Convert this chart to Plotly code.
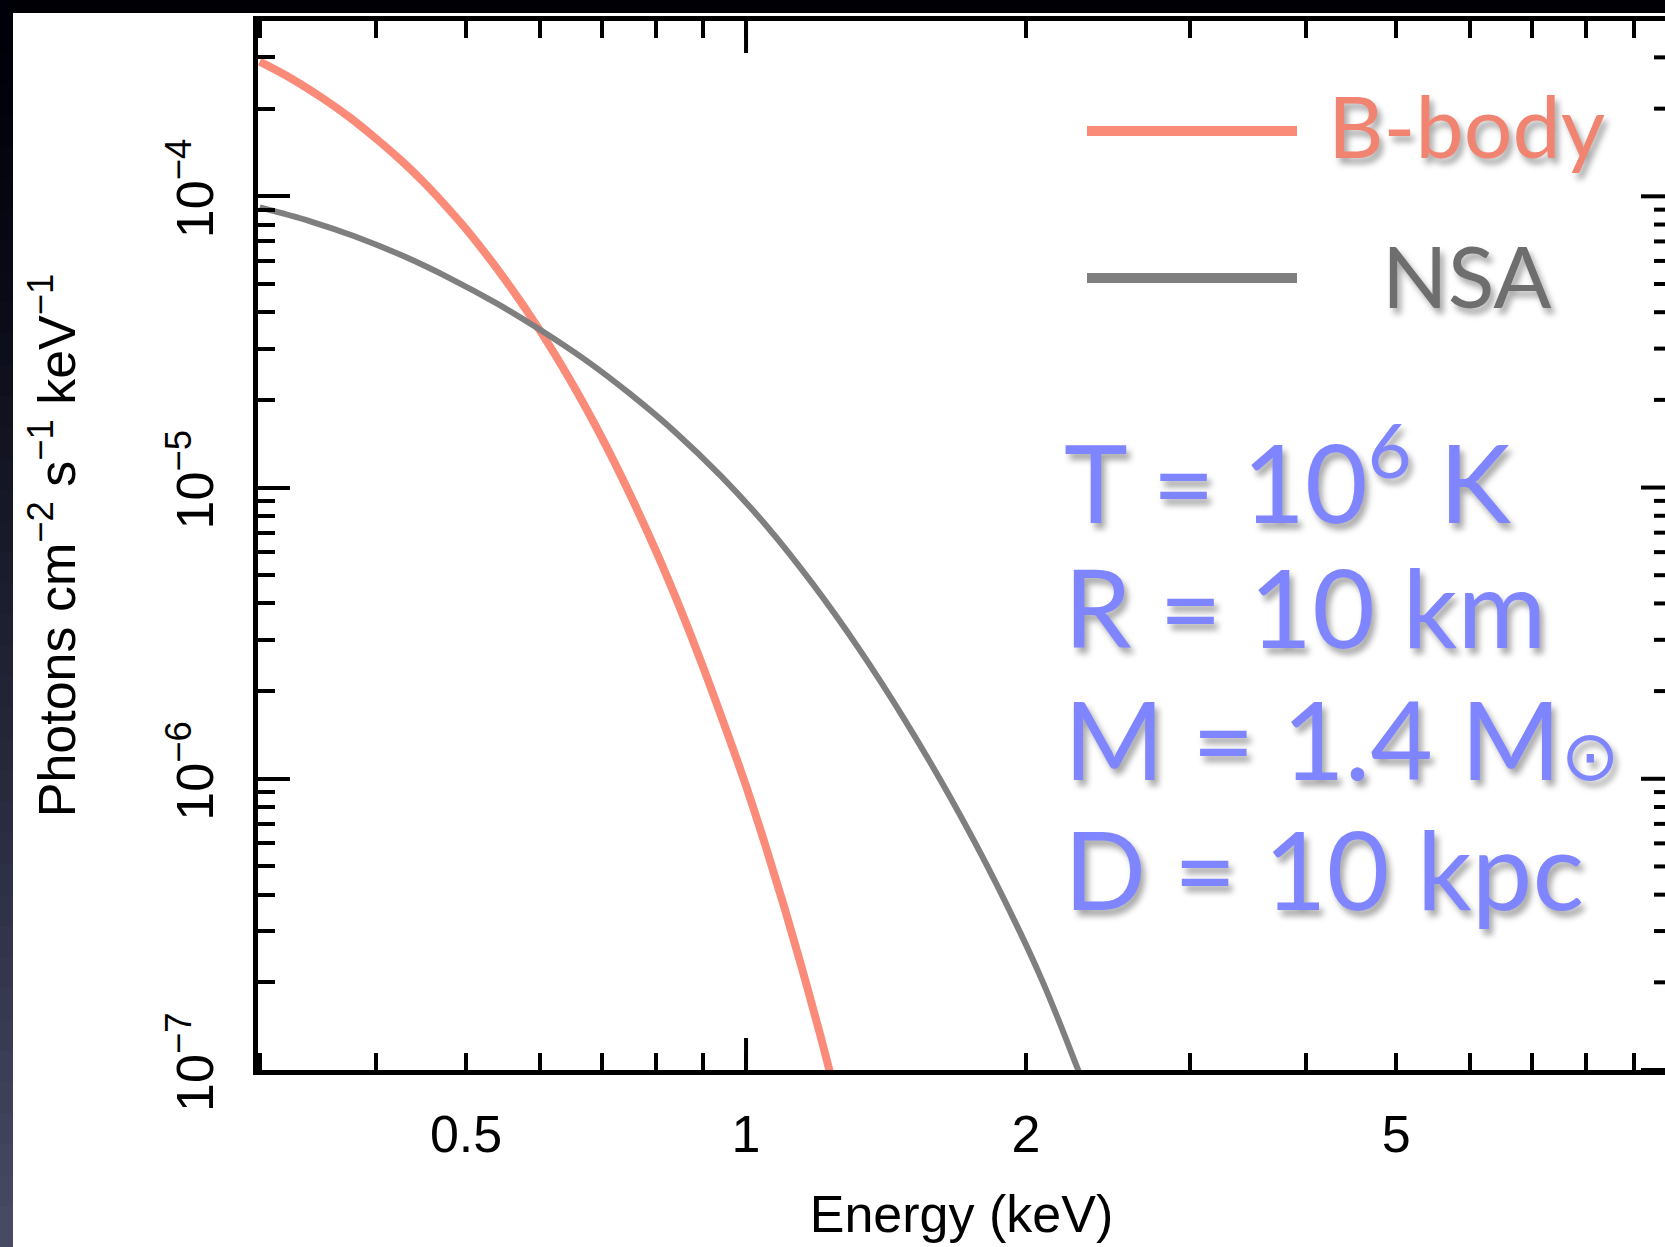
import plotly.graph_objects as go

# ---------------- data ----------------
bbody_energy = [0.30, 0.325, 0.35, 0.375, 0.40, 0.425, 0.45, 0.475, 0.50, 0.55, 0.60, 0.65,
                0.70, 0.75, 0.80, 0.85, 0.90, 0.95, 1.00, 1.05, 1.10, 1.15, 1.20, 1.25]
bbody_flux = [2.9e-4, 2.53e-4, 2.18e-4, 1.865e-4, 1.58e-4, 1.335e-4, 1.12e-4, 9.31e-5,
              7.72e-5, 5.21e-5, 3.47e-5, 2.28e-5, 1.48e-5, 9.5e-6, 6.06e-6, 3.83e-6, 2.4e-6,
              1.5e-6, 9.45e-7, 5.85e-7, 3.6e-7, 2.2e-7, 1.34e-7, 8.1e-8]

nsa_energy = [0.30, 0.34, 0.38, 0.43, 0.48, 0.54, 0.60, 0.67, 0.75, 0.84,
              0.94, 1.05, 1.18, 1.32, 1.48, 1.66, 1.86, 2.08, 2.27, 2.33]
nsa_flux = [9.16e-5, 8.21e-5, 7.28e-5, 6.20e-5, 5.24e-5, 4.28e-5, 3.49e-5, 2.76e-5,
            2.10e-5, 1.546e-5, 1.094e-5, 7.44e-6, 4.66e-6, 2.82e-6, 1.60e-6, 8.57e-7,
            4.33e-7, 2.04e-7, 1.02e-7, 8.2e-8]

x_tick_vals = [0.5, 1, 2, 5]
x_tick_text = ["0.5", "1", "2", "5"]
x_minor_vals = [0.3, 0.4, 0.6, 0.7, 0.8, 0.9, 3, 4, 6, 7, 8, 9]
x_long_tick = [1]

y_tick_vals = [1e-7, 1e-6, 1e-5, 1e-4]
y_tick_text = ["10<sup>−7</sup>", "10<sup>−6</sup>", "10<sup>−5</sup>", "10<sup>−4</sup>"]
y_minor_vals = [k * 10.0 ** d for d in (-7, -6, -5) for k in range(2, 10)] + [2e-4, 3e-4]

legend_names = ["B-body", "NSA"]
param_lines = ["T = 10<sup>6</sup> K", "R = 10 km",
               "M = 1.4 M<span style=\"font-family:DejaVu Sans;font-size:70px\">⊙</span>",
               "D = 10 kpc"]

# ---------------- style ----------------
W, H = 1665, 1247
L, R, T, B = 258, 0, 21, 177
RED = "#F98B78"
GRAY = "#7F7F7F"
BLUE = "#7F84FF"
AXFONT = "Liberation Sans, Arial, Helvetica, sans-serif"
TXTFONT = "Lato, Open Sans, sans-serif"
pw, ph = W - L - R, H - T - B


def px2paper(x, y):
    return (x - L) / pw, (H - B - y) / ph


fig = go.Figure()
fig.add_trace(go.Scatter(x=bbody_energy, y=bbody_flux, mode="lines", name=legend_names[0],
                         line=dict(color=RED, width=8, shape="spline", smoothing=1.0),
                         showlegend=False))
fig.add_trace(go.Scatter(x=nsa_energy, y=nsa_flux, mode="lines", name=legend_names[1],
                         line=dict(color=GRAY, width=6, shape="spline", smoothing=1.0),
                         showlegend=False))

shapes = []
# background: white panel with a dark frame on top / left
x0p, _ = px2paper(0, 0)
x13, _ = px2paper(13, 0)
_, ytop = px2paper(0, 0)
_, y13 = px2paper(0, 13)
_, ybot = px2paper(0, H)
shapes.append(dict(type="rect", xref="paper", yref="paper", x0=x0p, x1=1.01, y0=y13, y1=ytop,
                   fillcolor="#000005", line_width=0, layer="below"))
nb = 40
step = (ytop - ybot) / nb
for i in range(nb):
    t = i / (nb - 1)
    r = int(0 + 72 * t ** 1.3)
    g = int(0 + 74 * t ** 1.3)
    b = int(8 + 92 * t ** 1.2)
    ya = ytop - step * i + step * 0.3
    yb = ytop - step * (i + 1) - step * 0.3
    shapes.append(dict(type="rect", xref="paper", yref="paper", x0=x0p, x1=x13, y0=yb, y1=ya,
                       fillcolor=f"rgb({r},{g},{b})", line_width=0, layer="below"))

# long ticks at x = 1 (bottom and top)
for xv in x_long_tick:
    shapes.append(dict(type="line", xref="x", yref="paper", x0=xv, x1=xv, ysizemode="pixel",
                       yanchor=0, y0=0, y1=32, line=dict(color="black", width=4)))
    shapes.append(dict(type="line", xref="x", yref="paper", x0=xv, x1=xv, ysizemode="pixel",
                       yanchor=1, y0=-32, y1=0, line=dict(color="black", width=4)))
# right-side ticks (axis itself lies just beyond the crop)
for yv in y_tick_vals:
    shapes.append(dict(type="line", xref="paper", yref="y", y0=yv, y1=yv, xsizemode="pixel",
                       xanchor=1, x0=-24, x1=0, line=dict(color="black", width=4)))
for yv in y_minor_vals:
    shapes.append(dict(type="line", xref="paper", yref="y", y0=yv, y1=yv, xsizemode="pixel",
                       xanchor=1, x0=-11, x1=0, line=dict(color="black", width=4)))

# legend lines
for name, col, ypix in [(legend_names[0], RED, 131), (legend_names[1], GRAY, 278)]:
    xa, ya = px2paper(1087, ypix)
    xb, _ = px2paper(1297, ypix)
    shapes.append(dict(type="line", xref="paper", yref="paper", x0=xa, x1=xb, y0=ya, y1=ya,
                       line=dict(color=col, width=10)))

annotations = []
SH = "4px 6px 6px rgba(0,0,0,0.35)"
for name, col, ymid in [(legend_names[0], "#F08470", 125), (legend_names[1], "#6E6E6E", 275)]:
    xa, ya = px2paper(1466, ymid)
    annotations.append(dict(text=name, xref="paper", yref="paper", x=xa, y=ya, xanchor="center",
                            yanchor="middle", showarrow=False,
                            font=dict(family=TXTFONT, size=86, color=col, shadow=SH)))
for txt, ymid in zip(param_lines, [474, 606, 738, 868]):
    xa, ya = px2paper(1062, ymid)
    annotations.append(dict(text=txt, xref="paper", yref="paper", x=xa, y=ya, xanchor="left",
                            yanchor="middle", showarrow=False,
                            font=dict(family=TXTFONT, size=108, color=BLUE, shadow=SH)))

fig.update_layout(
    width=W, height=H,
    margin=dict(l=L, r=R, t=T, b=B, pad=0),
    paper_bgcolor="white", plot_bgcolor="white",
    shapes=shapes, annotations=annotations,
    xaxis=dict(type="log", range=[-0.5247, 0.988], showgrid=False, zeroline=False,
               showline=True, linecolor="black", linewidth=5, mirror="ticks",
               ticks="inside", ticklen=17, tickwidth=4, tickcolor="black",
               tickvals=x_tick_vals, ticktext=x_tick_text,
               tickfont=dict(family=AXFONT, size=52, color="black"), ticklabelstandoff=15,
               minor=dict(tickvals=x_minor_vals, ticks="inside", ticklen=17, tickwidth=4,
                          tickcolor="black", showgrid=False),
               title=dict(text="Energy (keV)", standoff=35,
                          font=dict(family=AXFONT, size=52, color="black"))),
    yaxis=dict(type="log", range=[-7, -3.398], showgrid=False, zeroline=False,
               showline=True, linecolor="black", linewidth=5, mirror=False,
               ticks="inside", ticklen=32, tickwidth=4, tickcolor="black",
               tickvals=y_tick_vals, ticktext=y_tick_text, tickangle=-90,
               tickfont=dict(family=AXFONT, size=52, color="black"), ticklabelstandoff=19,
               minor=dict(tickvals=y_minor_vals, ticks="inside", ticklen=17, tickwidth=4,
                          tickcolor="black", showgrid=False),
               title=dict(text="Photons cm<sup>−2</sup> s<sup>−1</sup> keV<sup>−1</sup>", standoff=68,
                          font=dict(family=AXFONT, size=52, color="black"))),
)

fig.write_html("out.html")
